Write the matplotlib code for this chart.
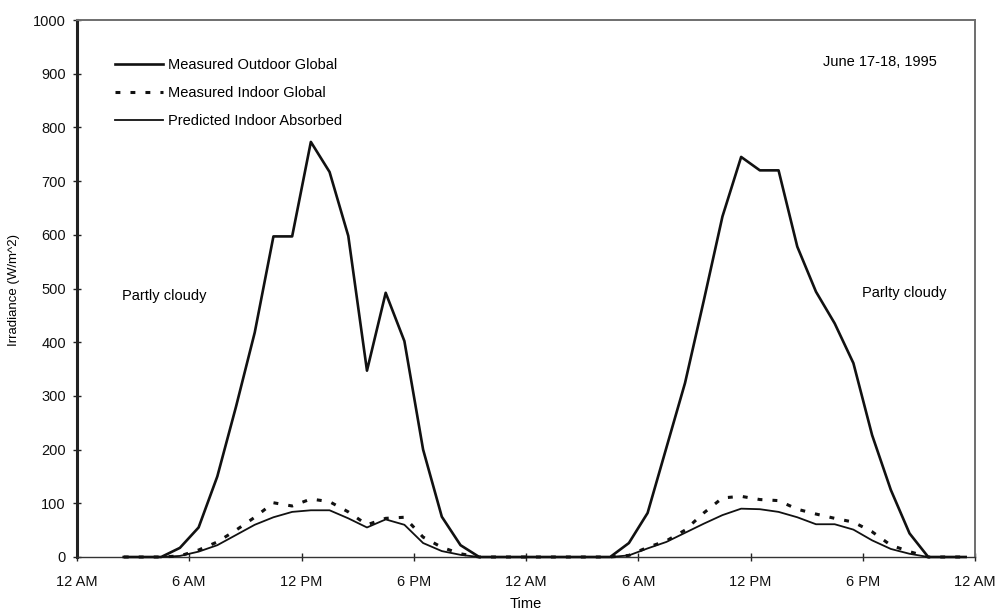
import matplotlib
matplotlib.use('Agg')
import matplotlib.pyplot as plt
import numpy as np

plt.rcParams['font.family'] = ['Liberation Sans', 'DejaVu Sans']

# hourly readings, taken at the half hour (hours since 12 AM June 17)
hours = np.arange(2.5, 48.0, 1.0)

outdoor_global = [0, 0, 0, 17, 55, 150, 280, 418, 597, 597,
                  773, 717, 598, 347, 492, 402, 200, 75, 22, 0,
                  0, 0, 0, 0, 0, 0, 0, 26, 82, 203,
                  324, 477, 634, 745, 720, 720, 578, 494, 435, 361,
                  227, 125, 44, 0, 0, 0]

indoor_global = [0, 0, 0, 2, 13, 28, 50, 74, 101, 95,
                 108, 103, 84, 60, 72, 74, 37, 18, 6, 0,
                 0, 0, 0, 0, 0, 0, 0, 3, 18, 30,
                 50, 82, 110, 113, 107, 105, 89, 80, 72, 65,
                 47, 22, 10, 0, 0, 0]

indoor_absorbed = [0, 0, 0, 2, 10, 22, 41, 60, 74, 84,
                   87, 87, 72, 55, 70, 60, 26, 11, 4, 0,
                   0, 0, 0, 0, 0, 0, 0, 3, 16, 28,
                   45, 62, 78, 90, 89, 84, 74, 61, 61, 51,
                   31, 15, 6, 0, 0, 0]

tick_hours = [0, 6, 12, 18, 24, 30, 36, 42, 48]
tick_labels = ['12 AM', '6 AM', '12 PM', '6 PM', '12 AM', '6 AM', '12 PM', '6 PM', '12 AM']

fig = plt.figure(figsize=(9.98, 6.1), dpi=100)
ax = fig.add_axes([77 / 998, 1 - 557 / 610, (975 - 77) / 998, (557 - 20) / 610])

ax.plot(hours, outdoor_global, color='#111111', linewidth=1.9,
        label='Measured Outdoor Global', clip_on=False, zorder=3)
ax.plot(hours, indoor_global, color='#111111', linewidth=2.2,
        linestyle=(0, (1.6, 3.3)), label='Measured Indoor Global', clip_on=False, zorder=3)
ax.plot(hours, indoor_absorbed, color='#111111', linewidth=1.3,
        label='Predicted Indoor Absorbed', clip_on=False, zorder=3)

ax.set_xlim(0, 48)
ax.set_ylim(0, 1000)
ax.set_xticks(tick_hours)
ax.set_xticklabels(tick_labels)
ax.set_yticks(np.arange(0, 1001, 100))

ax.tick_params(axis='both', direction='inout', length=6, width=1, colors='#222222',
               labelsize=10.5, labelcolor='#111111')
ax.tick_params(axis='y', pad=5)
ax.tick_params(axis='x', pad=10)

ax.spines['left'].set_linewidth(2.2)
ax.spines['left'].set_color('#222222')
ax.spines['bottom'].set_linewidth(1.0)
ax.spines['bottom'].set_color('#333333')
for side in ['top', 'right']:
    ax.spines[side].set_linewidth(1.4)
    ax.spines[side].set_color('#6e6e6e')

ax.set_ylabel('Irradiance (W/m^2)', fontsize=9.5)
ax.yaxis.set_label_coords(20 / 998, 1 - 290 / 610, transform=fig.transFigure)
ax.set_xlabel('Time', fontsize=10.5, labelpad=6)

ax.text(122 / 998, 1 - 296 / 610, 'Partly cloudy', transform=fig.transFigure,
        fontsize=10.5, va='center')
ax.text(823 / 998, 1 - 62 / 610, 'June 17-18, 1995', transform=fig.transFigure,
        fontsize=10.5, va='center')
ax.text(862 / 998, 1 - 293 / 610, 'Parlty cloudy', transform=fig.transFigure,
        fontsize=10.5, va='center')

ax.legend(loc='upper left', bbox_to_anchor=(115 / 998, 1 - 58 / 610),
          bbox_transform=fig.transFigure, frameon=False, fontsize=10.5,
          handlelength=3.3, handletextpad=0.3, labelspacing=0.95,
          borderpad=0, borderaxespad=0)

fig.savefig('out.png', dpi=100)
